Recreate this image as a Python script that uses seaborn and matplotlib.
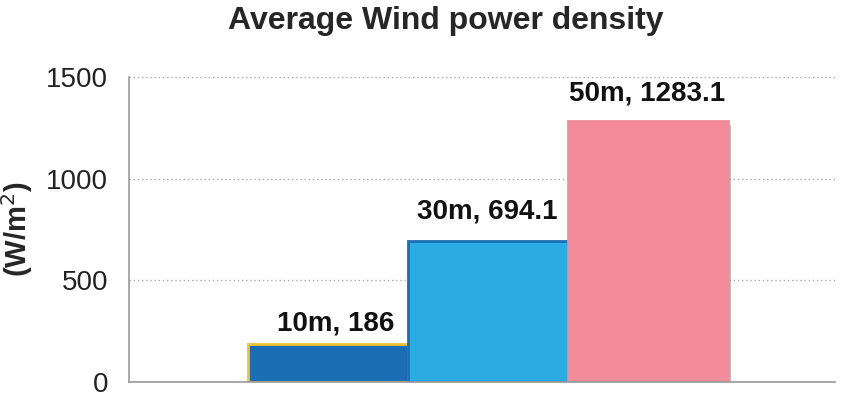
import numpy as np
import pandas as pd
import matplotlib
matplotlib.use("Agg")
import matplotlib.pyplot as plt
import matplotlib.patheffects as pe
import seaborn as sns

heights = ["10m", "30m", "50m"]
power = [186, 694.1, 1283.1]
bar_colors = ["#1b6db4", "#2aace3", "#f28c9b"]
edge_colors = ["#f0c230", "#1b6db4", "#f28c9b"]

df = pd.DataFrame({"height": heights, "power": power})

sns.set_style("white")
plt.rcParams["font.family"] = ["Liberation Sans", "DejaVu Sans"]

fig = plt.figure(figsize=(8.5, 3.98), dpi=100)
ax = fig.add_axes([0.152, 0.040, 0.830, 0.766])

sns.barplot(data=df, x="height", y="power", hue="height", palette=bar_colors,
            width=1.0, legend=False, ax=ax, saturation=1)

# label offsets (points) to mimic the original data labels
lab_off = [(6, 15), (0, 21), (0, 20)]
for p, ec, lab, v, off in zip(ax.patches, edge_colors, heights, power, lab_off):
    p.set_edgecolor(ec)
    p.set_linewidth(2)
    p.set_path_effects([pe.SimplePatchShadow(offset=(2.5, -2.5), shadow_rgbFace="#777777", alpha=0.45), pe.Normal()])
    x = p.get_x() + p.get_width() / 2
    ax.annotate(f"{lab}, {v:g}", (x, v), xytext=off, textcoords="offset points",
                ha="center", va="center", fontsize=20, fontweight="bold", color="#111111")

ax.set_xlim(-1.24, 3.17)
ax.set_ylim(0, 1500)
ax.set_yticks([0, 500, 1000, 1500])
ax.tick_params(axis="y", labelsize=20, colors="#222222", length=0, pad=15)
ax.set_xticks([])
ax.set_xlabel("")
ax.set_ylabel("(W/m$^2$)", fontsize=21, fontweight="bold", labelpad=8)
ax.yaxis.grid(True, linestyle=(0, (1, 2)), color="#aaaaaa", linewidth=1)
ax.set_axisbelow(True)
for s in ["top", "right"]:
    ax.spines[s].set_visible(False)
for s in ["left", "bottom"]:
    ax.spines[s].set_color("#999999")
    ax.spines[s].set_linewidth(1.2)

fig.suptitle("Average Wind power density", x=0.525, y=0.985, fontsize=23, fontweight="bold")

fig.savefig("out.png", dpi=100)
